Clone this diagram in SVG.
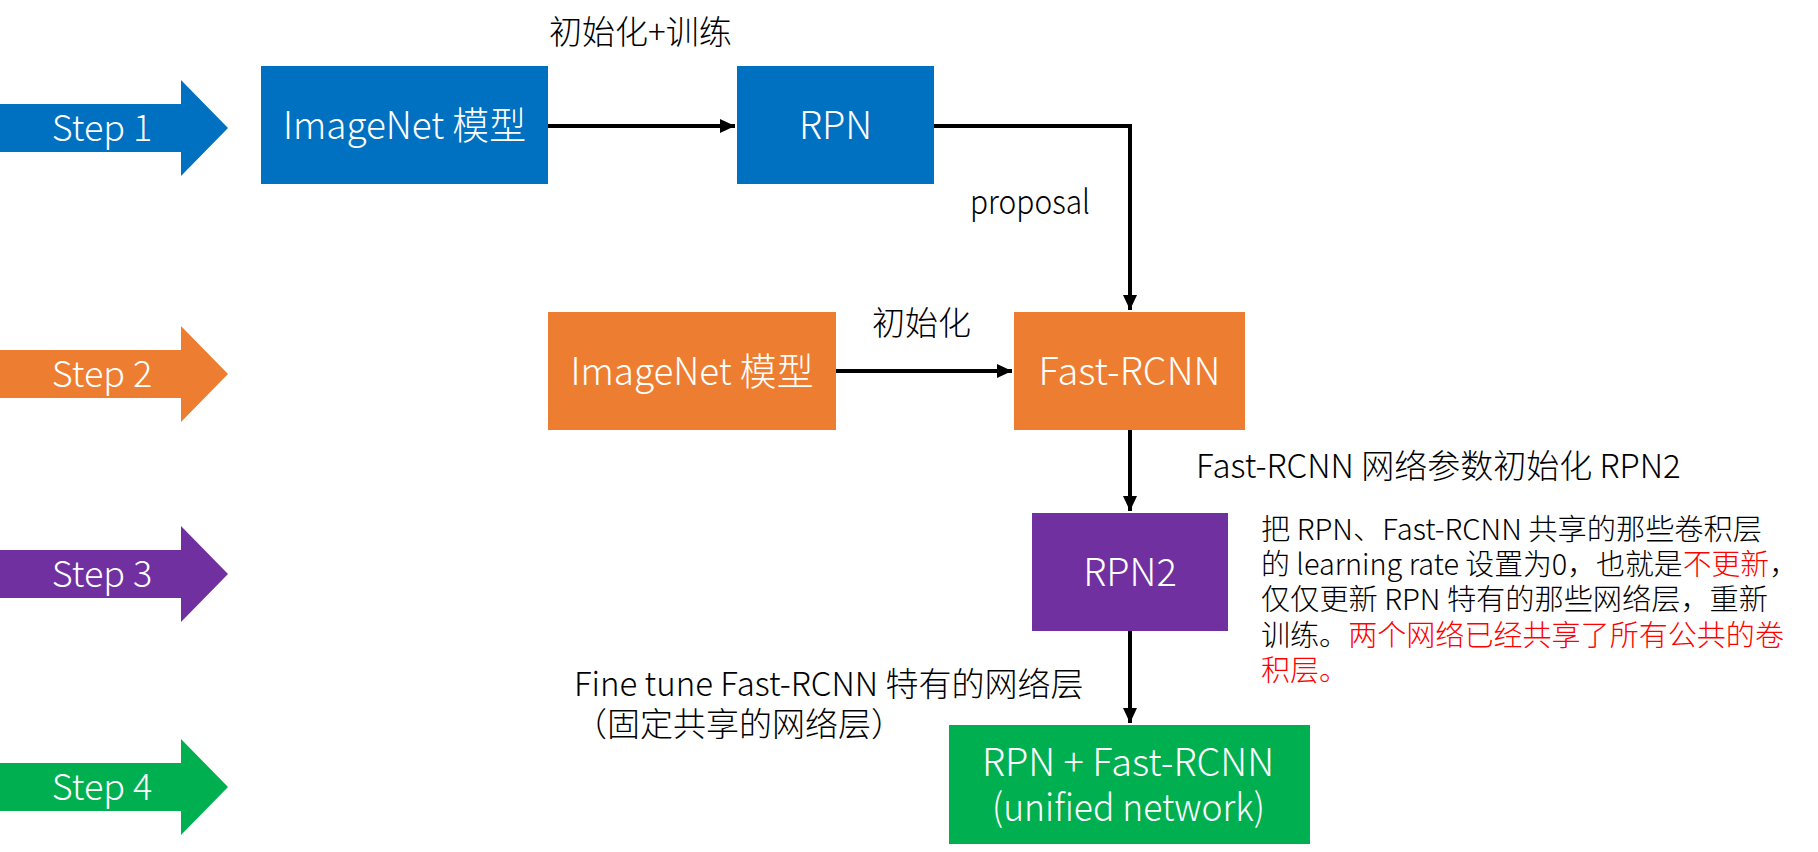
<svg xmlns="http://www.w3.org/2000/svg" width="1818" height="852" viewBox="0 0 1818 852">
<style>
  text { font-family: "Noto Sans CJK SC", "Noto Sans", sans-serif; font-weight: 300; }
  .box { font-size: 38px; fill: #ffffff; text-anchor: middle; }
  .step { font-size: 36px; fill: #ffffff; text-anchor: middle; }
  .lbl { font-size: 33px; fill: #000000; }
  .para { font-size: 29px; fill: #000000; }
  .red { fill: #ff0000; }
  .conn { fill: none; stroke: #000000; stroke-width: 4; }
  .blue { fill: #0070c0; }
  .orange { fill: #ed7d31; }
  .purple { fill: #7030a0; }
  .green { fill: #00b050; }
</style>
<defs>
  <marker id="ah" markerUnits="userSpaceOnUse" markerWidth="16" markerHeight="16" viewBox="0 0 16 16" refX="15" refY="8" orient="auto">
    <path d="M0,1 L15,8 L0,15 Z" fill="#000000"/>
  </marker>
</defs>
<rect width="1818" height="852" fill="#ffffff"/>

<g id="step1">
  <polygon class="blue" points="0,104 181,104 181,80 228,128 181,176 181,152 0,152"/>
  <text class="step" x="102" y="141">Step 1</text>
</g>
<g id="step2">
  <polygon class="orange" points="0,350 181,350 181,326 228,374 181,422 181,398 0,398"/>
  <text class="step" x="102" y="387">Step 2</text>
</g>
<g id="step3">
  <polygon class="purple" points="0,550 181,550 181,526 228,574 181,622 181,598 0,598"/>
  <text class="step" x="102" y="587">Step 3</text>
</g>
<g id="step4">
  <polygon class="green" points="0,763 181,763 181,739 228,787 181,835 181,811 0,811"/>
  <text class="step" x="102" y="800">Step 4</text>
</g>

<g id="imagenet1">
  <rect class="blue" x="261" y="66" width="287" height="118"/>
  <text class="box" x="404.5" y="139" textLength="243" lengthAdjust="spacingAndGlyphs">ImageNet 模型</text>
</g>
<g id="rpn">
  <rect class="blue" x="737" y="66" width="197" height="118"/>
  <text class="box" x="835.5" y="139">RPN</text>
</g>
<g id="imagenet2">
  <rect class="orange" x="548" y="312" width="288" height="118"/>
  <text class="box" x="692" y="385" textLength="243" lengthAdjust="spacingAndGlyphs">ImageNet 模型</text>
</g>
<g id="fastrcnn">
  <rect class="orange" x="1014" y="312" width="231" height="118"/>
  <text class="box" x="1129.5" y="385">Fast-RCNN</text>
</g>
<g id="rpn2">
  <rect class="purple" x="1032" y="513" width="196" height="118"/>
  <text class="box" x="1130" y="586">RPN2</text>
</g>
<g id="unified">
  <rect class="green" x="949" y="725" width="361" height="119"/>
  <text class="box" x="1128" y="776">RPN + Fast-RCNN</text>
  <text class="box" x="1128.5" y="821" textLength="273" lengthAdjust="spacingAndGlyphs">(unified network)</text>
</g>

<g id="connectors">
  <path class="conn" d="M548,126 H735" marker-end="url(#ah)"/>
  <path class="conn" d="M934,126 H1130 V310" marker-end="url(#ah)"/>
  <path class="conn" d="M836,371 H1012" marker-end="url(#ah)"/>
  <path class="conn" d="M1130,430 V511" marker-end="url(#ah)"/>
  <path class="conn" d="M1130,631 V723" marker-end="url(#ah)"/>
</g>

<g id="labels">
  <text class="lbl" x="549" y="44">初始化+训练</text>
  <text class="lbl" x="970" y="214" textLength="120" lengthAdjust="spacingAndGlyphs">proposal</text>
  <text class="lbl" x="872" y="335">初始化</text>
  <text class="lbl" x="1196" y="478">Fast-RCNN 网络参数初始化 RPN2</text>
  <text class="lbl" x="574" y="696">Fine tune Fast-RCNN 特有的网络层</text>
  <text class="lbl" x="574" y="736">（固定共享的网络层）</text>
</g>

<g id="note">
  <text class="para" x="1261" y="540" textLength="501" lengthAdjust="spacingAndGlyphs">把 RPN、Fast-RCNN 共享的那些卷积层</text>
  <text class="para" x="1261" y="575" textLength="537" lengthAdjust="spacingAndGlyphs">的 learning rate 设置为0，也就是<tspan class="red">不更新</tspan>，</text>
  <text class="para" x="1261" y="610" textLength="507" lengthAdjust="spacingAndGlyphs">仅仅更新 RPN 特有的那些网络层，重新</text>
  <text class="para" x="1261" y="646" textLength="523" lengthAdjust="spacingAndGlyphs">训练。<tspan class="red">两个网络已经共享了所有公共的卷</tspan></text>
  <text class="para red" x="1261" y="681">积层。</text>
</g>
</svg>
